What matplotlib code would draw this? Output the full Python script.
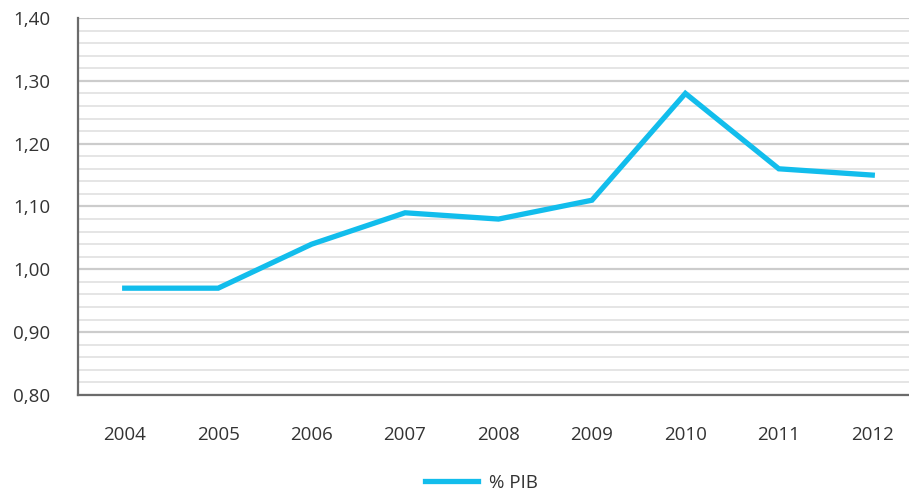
import matplotlib.pyplot as plt
from matplotlib.ticker import MultipleLocator, FuncFormatter

years = ['2004', '2005', '2006', '2007', '2008', '2009', '2010', '2011', '2012']
pib = [0.97, 0.97, 1.04, 1.09, 1.08, 1.11, 1.28, 1.16, 1.15]

LINE_COLOR = '#12bdec'
TEXT_COLOR = '#333333'


def main():
    plt.rcParams['font.family'] = ['Open Sans', 'DejaVu Sans']

    fig = plt.figure(figsize=(9.09, 4.93), dpi=100)
    ax = fig.add_axes([78 / 909, 1 - 395 / 493, 841 / 909, 377 / 493])

    x = list(range(len(years)))
    ax.plot(x, pib, color=LINE_COLOR, linewidth=3.8, label='% PIB',
            solid_joinstyle='miter')

    ax.set_xlim(-0.5, len(years) - 0.5)
    ax.set_ylim(0.80, 1.40)
    ax.set_xticks(x)
    ax.set_xticklabels(years)

    # Major and minor gridlines
    ax.yaxis.set_major_locator(MultipleLocator(0.10))
    ax.yaxis.set_minor_locator(MultipleLocator(0.02))
    ax.yaxis.set_major_formatter(FuncFormatter(lambda v, p: '{:.2f}'.format(v).replace('.', ',')))
    ax.grid(which='major', axis='y', color='#cccccc', linewidth=1.6)
    ax.grid(which='minor', axis='y', color='#e3e3e3', linewidth=1.3)
    ax.set_axisbelow(True)

    for side in ['top', 'right']:
        ax.spines[side].set_visible(False)
    for side in ['left', 'bottom']:
        ax.spines[side].set_color('#6b6b6b')
        ax.spines[side].set_linewidth(1.6)
        ax.spines[side].set_zorder(1)

    ax.tick_params(which='both', length=0)
    ax.tick_params(axis='y', pad=20, labelsize=13.5, labelcolor=TEXT_COLOR)
    ax.tick_params(axis='x', pad=22, labelsize=13.5, labelcolor=TEXT_COLOR)

    fig.legend(loc='center', bbox_to_anchor=(0.53, 1 - 483 / 493), frameon=False,
               fontsize=13.5, handlelength=2.8, handletextpad=0.6, labelcolor=TEXT_COLOR)

    fig.savefig('out.png', dpi=100)
    plt.close(fig)


if __name__ == '__main__':
    main()
